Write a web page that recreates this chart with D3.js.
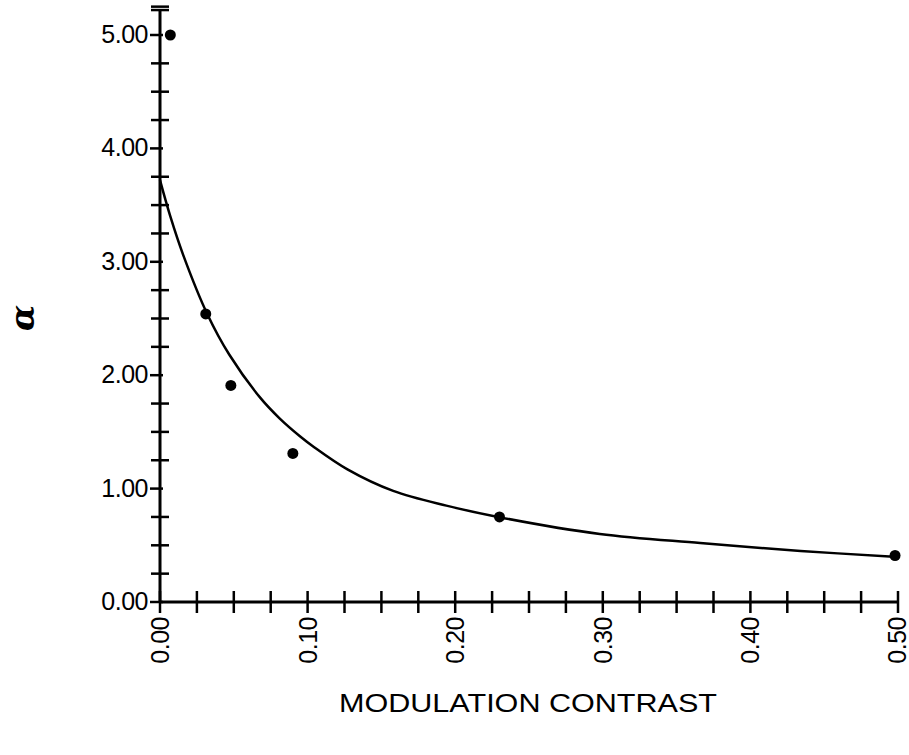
<!DOCTYPE html>
<html>
<head>
<meta charset="utf-8">
<script src="https://cdn.jsdelivr.net/npm/d3@7"></script>
<style>
  html, body { margin: 0; padding: 0; background: #fff; }
  .content { width: 909px; height: 755px; }
  text { font-family: "Liberation Sans", Arial, Helvetica, sans-serif; fill: #000; }
</style>
</head>
<body>
<div class="content"></div>
<script>
// measured points
var pointX = [0.007, 0.031, 0.048, 0.090, 0.230, 0.498];
var pointY = [5.00, 2.54, 1.91, 1.31, 0.75, 0.41];

// fitted curve
var curveX = [0, 0.007, 0.016, 0.032, 0.047, 0.068, 0.081, 0.095, 0.104, 0.127, 0.158, 0.194, 0.229, 0.298, 0.366, 0.434, 0.497];
var curveY = [3.72, 3.40, 3.05, 2.54, 2.18, 1.80, 1.62, 1.46, 1.37, 1.17, 0.98, 0.85, 0.75, 0.60, 0.52, 0.45, 0.40];

var xTickLabels = [0, 0.1, 0.2, 0.3, 0.4, 0.5];
var yTickLabels = [0, 1, 2, 3, 4, 5];
var xMinorStep = 0.025;
var yMinorStep = 0.25;

var svg = d3.select(".content")
  .append('svg')
  .attr('width', 909)
  .attr('height', 755);

var x = d3.scaleLinear().domain([0, 0.5]).range([160, 898]);
var y = d3.scaleLinear().domain([0, 5]).range([602, 35]);

var xMinor = d3.range(0, 0.5 + 1e-9, xMinorStep);
var yMinor = d3.range(0, 5.25 + 1e-9, yMinorStep).filter(function(d) { return d % 1 !== 0; });

// axis lines
svg.append('line')
  .attr('x1', x(0)).attr('x2', x(0))
  .attr('y1', y(0)).attr('y2', y(5.22))
  .attr('stroke', '#000').attr('stroke-width', 3);
svg.append('line')
  .attr('x1', x(0)).attr('x2', x(0.5))
  .attr('y1', y(0)).attr('y2', y(0))
  .attr('stroke', '#000').attr('stroke-width', 3);

// top cap
svg.append('line')
  .attr('x1', x(0) - 9).attr('x2', x(0) + 9)
  .attr('y1', y(5.22)).attr('y2', y(5.22))
  .attr('stroke', '#000').attr('stroke-width', 2.5);

// y ticks
svg.append('g').selectAll('line')
  .data(yMinor)
  .enter()
  .append('line')
  .attr('x1', x(0) - 9).attr('x2', x(0) + 9)
  .attr('y1', function(d) { return y(d); })
  .attr('y2', function(d) { return y(d); })
  .attr('stroke', '#000').attr('stroke-width', 2.5);

svg.append('g').selectAll('line')
  .data(yTickLabels)
  .enter()
  .append('line')
  .attr('x1', x(0) - 10).attr('x2', x(0) + 3)
  .attr('y1', function(d) { return y(d); })
  .attr('y2', function(d) { return y(d); })
  .attr('stroke', '#000').attr('stroke-width', 2.5);

svg.append('g').selectAll('text')
  .data(yTickLabels)
  .enter()
  .append('text')
  .attr('x', x(0) - 12)
  .attr('y', function(d) { return y(d) + 8; })
  .attr('text-anchor', 'end')
  .style('font-size', '25px')
  .style('letter-spacing', '-0.5px')
  .text(function(d) { return d.toFixed(2); });

// x ticks
svg.append('g').selectAll('line')
  .data(xMinor)
  .enter()
  .append('line')
  .attr('x1', function(d) { return x(d); })
  .attr('x2', function(d) { return x(d); })
  .attr('y1', y(0) - 11).attr('y2', y(0) + 11)
  .attr('stroke', '#000').attr('stroke-width', 2.5);

svg.append('g').selectAll('text')
  .data(xTickLabels)
  .enter()
  .append('text')
  .attr('transform', function(d) {
    return 'translate(' + Math.min(x(d) + 9, 906) + ',' + (y(0) + 15) + ') rotate(-90)';
  })
  .attr('text-anchor', 'end')
  .style('font-size', '25px')
  .style('letter-spacing', '-0.5px')
  .text(function(d) { return d.toFixed(2); });

// curve
var line = d3.line()
  .x(function(d, i) { return x(curveX[i]); })
  .y(function(d) { return y(d); })
  .curve(d3.curveCatmullRom.alpha(0.5));

svg.append('path')
  .datum(curveY)
  .attr('d', line)
  .attr('fill', 'none')
  .attr('stroke', '#000')
  .attr('stroke-width', 2.5);

// points
svg.append('g').selectAll('circle')
  .data(pointY)
  .enter()
  .append('circle')
  .attr('cx', function(d, i) { return x(pointX[i]); })
  .attr('cy', function(d) { return y(d); })
  .attr('r', 5.5)
  .attr('fill', '#000');

// titles
svg.append('text')
  .attr('x', 528)
  .attr('y', 712)
  .attr('text-anchor', 'middle')
  .attr('textLength', 378)
  .attr('lengthAdjust', 'spacingAndGlyphs')
  .style('font-size', '25px')
  .text('MODULATION CONTRAST');

svg.append('text')
  .attr('transform', 'translate(34,318) rotate(-90)')
  .attr('text-anchor', 'middle')
  .style('font-family', '"DejaVu Serif", serif')
  .style('font-style', 'italic')
  .style('font-weight', 'bold')
  .style('font-size', '34px')
  .text('α');
</script>
</body>
</html>
